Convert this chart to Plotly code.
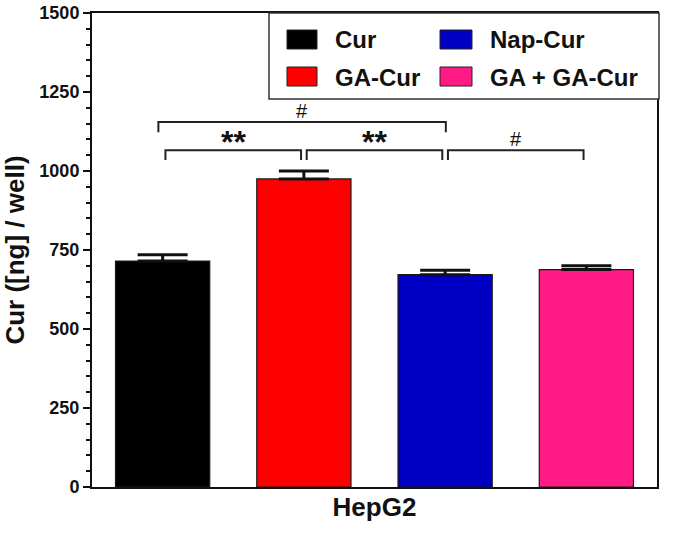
import plotly.graph_objects as go

# ---- data ----
categories = ["Cur", "GA-Cur", "Nap-Cur", "GA + GA-Cur"]
values = [715, 975, 672, 688]
errors = [20, 25, 14, 12]
colors = ["#000000", "#FF0000", "#0000C4", "#FF1A85"]
y_ticks = [0, 250, 500, 750, 1000, 1250, 1500]
# significance comparisons: (bar a, bar b, label, level)
comparisons = [(0, 1, "**", 0), (1, 2, "**", 0), (2, 3, "#", 0), (0, 2, "#", 1)]

W, H = 675, 533
PL, PR, PT, PB = 92, 657, 13, 487          # plot-area edges in pixels
ML, MT, MR, MB = PL, PT, W - PR, H - PB
FONT = "Liberation Sans, Arial, Helvetica, sans-serif"


def px_x(px):
    return (px - PL) / (PR - PL)


def px_y(py):
    return (PB - py) / (PB - PT)


xs = list(range(len(categories)))

fig = go.Figure()
fig.add_trace(go.Bar(
    x=xs, y=values,
    marker=dict(color=colors, line=dict(color="#1a1a1a", width=1.2)),
    width=0.667,
    error_y=dict(type="data", array=errors, arrayminus=[0] * len(errors),
                 symmetric=False, color="#111", thickness=3, width=25),
    showlegend=False,
    hovertext=categories,
))

shapes = []
annotations = []

# significance brackets
level_y = {0: (1066, 1035), 1: (1155, 1123)}
for a, b, lab, lev in comparisons:
    ytop, ybot = level_y[lev]
    if lev == 0:
        x0, x1 = a + 0.02, b - 0.02
    else:
        x0, x1 = a - 0.03, b + 0.005
    shapes.append(dict(type="path", xref="x", yref="y",
                       path=f"M {x0} {ybot} L {x0} {ytop} L {x1} {ytop} L {x1} {ybot}",
                       line=dict(color="#222", width=2)))
    xm = (x0 + x1) / 2
    if lab == "**":
        annotations.append(dict(x=xm, y=ytop, xref="x", yref="y", text="<b>**</b>",
                                showarrow=False, yanchor="bottom", yshift=-12,
                                font=dict(family=FONT, size=32, color="#111")))
    else:
        annotations.append(dict(x=xm, y=ytop, xref="x", yref="y", text="#",
                                showarrow=False, yanchor="bottom", yshift=-2,
                                font=dict(family=FONT, size=20, color="#111")))

# legend box (drawn manually to match two-column layout)
shapes.append(dict(type="rect", xref="paper", yref="paper",
                   x0=px_x(269), x1=px_x(659), y0=px_y(99), y1=px_y(13),
                   line=dict(color="#333", width=1.5), fillcolor="white", layer="above"))
col_sw = [(287, 317), (440, 472)]
col_tx = [333, 488]
row_sw = [(30, 49), (67, 86)]
row_tx = [39.5, 77]
for i, (name, col) in enumerate(zip(categories, colors)):
    c, r = i // 2, i % 2
    shapes.append(dict(type="rect", xref="paper", yref="paper",
                       x0=px_x(col_sw[c][0]), x1=px_x(col_sw[c][1]),
                       y0=px_y(row_sw[r][1]), y1=px_y(row_sw[r][0]),
                       fillcolor=col, line=dict(color="#222", width=1), layer="above"))
    annotations.append(dict(x=px_x(col_tx[c]), y=px_y(row_tx[r]), xref="paper", yref="paper",
                            text=f"<b>{name}</b>", showarrow=False, xanchor="left", yanchor="middle",
                            font=dict(family=FONT, size=24, color="#111")))

fig.update_layout(
    width=W, height=H,
    margin=dict(l=ML, r=MR, t=MT, b=MB, pad=0, autoexpand=False),
    paper_bgcolor="white", plot_bgcolor="white",
    shapes=shapes, annotations=annotations,
    font=dict(family=FONT, color="#111"),
    bargap=0.333,
)
fig.update_xaxes(
    range=[-0.5, 3.5], showgrid=False, zeroline=False, automargin=False,
    showline=True, linecolor="#111", linewidth=2, mirror=True,
    ticks="", showticklabels=False,
    title=dict(text="<b>HepG2</b>", font=dict(family=FONT, size=26, color="#111"), standoff=10),
)
fig.update_yaxes(
    range=[0, 1500], showgrid=False, zeroline=False, automargin=False,
    showline=True, linecolor="#111", linewidth=2, mirror=True,
    tickmode="array", tickvals=y_ticks, ticktext=[f"<b>{v}</b>" for v in y_ticks],
    ticks="outside", ticklen=7, tickwidth=2, tickcolor="#111",
    tickfont=dict(family=FONT, size=18, color="#111"),
    ticklabeloverflow="allow",
    minor=dict(dtick=50, ticks="outside", ticklen=4, tickwidth=1.5, tickcolor="#111"),
    title=dict(text="<b>Cur ([ng] / well)</b>", font=dict(family=FONT, size=26, color="#111"), standoff=14),
)

# remove the browser's default 8px body margin so the figure fills the window exactly
fig.write_html("out.html", config={"displayModeBar": False},
               post_script="document.body.style.margin='0px';")
